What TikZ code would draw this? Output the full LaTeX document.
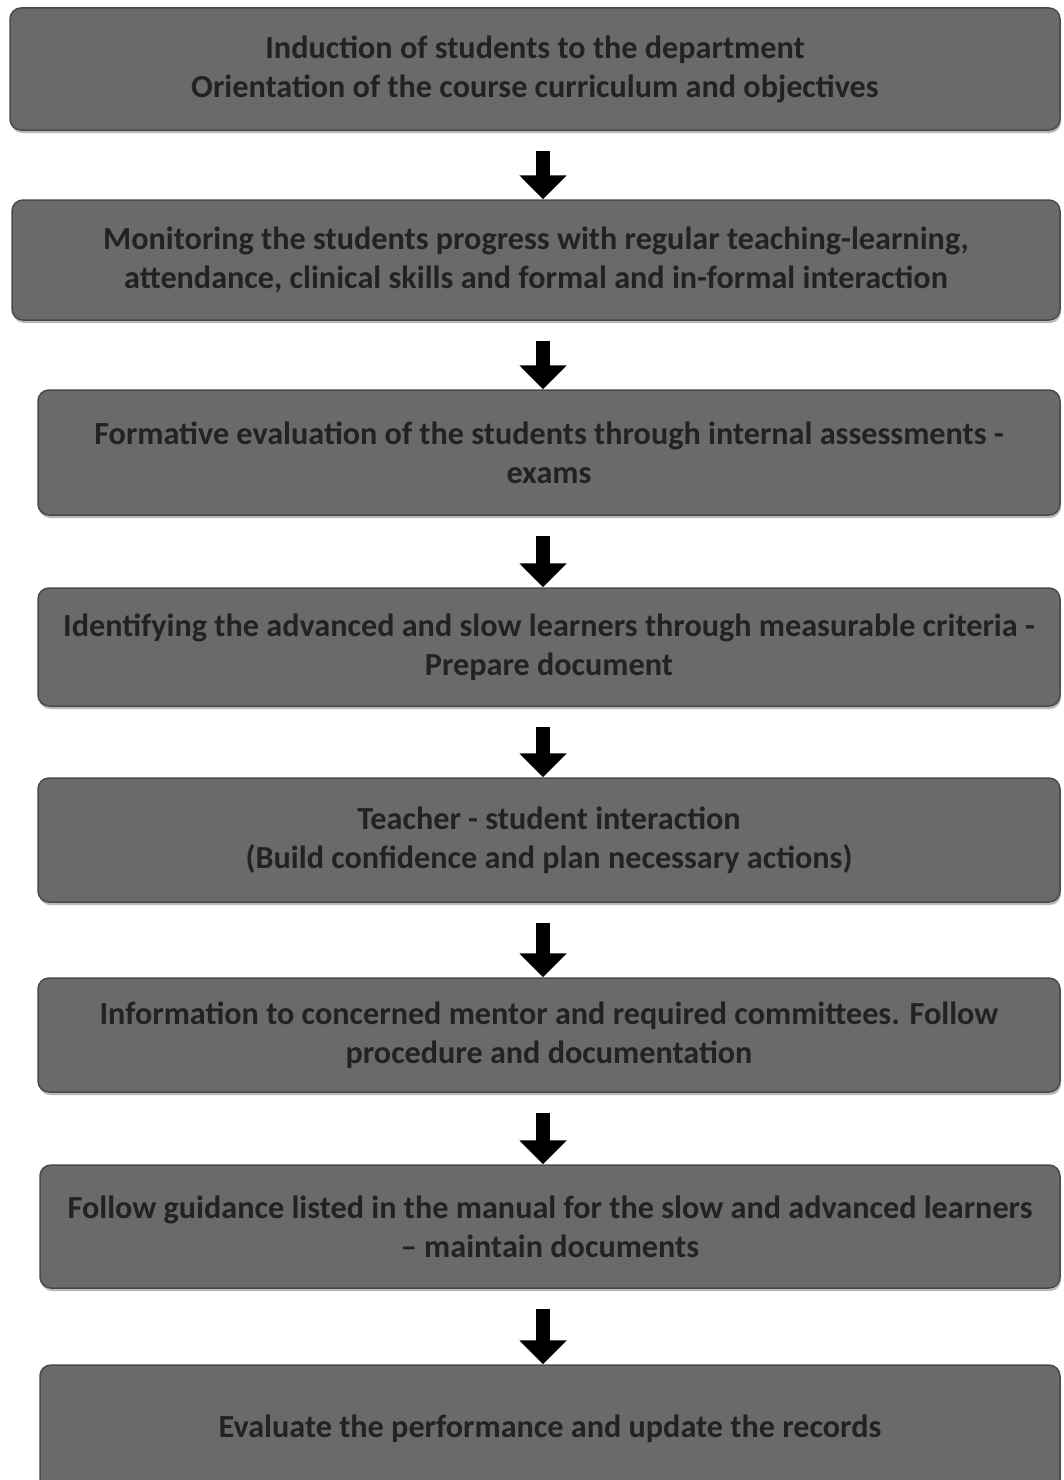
\documentclass[tikz,border=0pt]{standalone}
\usepackage{fontspec}
\setmainfont{Carlito}
\usetikzlibrary{arrows.meta,shadows}
\definecolor{boxgray}{HTML}{6A6A6A}
\definecolor{boxedge}{HTML}{4A4A4A}
\definecolor{txtgray}{HTML}{222222}
\begin{document}
\begin{tikzpicture}[x=1pt,y=-1pt,
  stepbox/.style={fill=boxgray, draw=boxedge, line width=1.5pt, rounded corners=11pt,
    align=center, text=txtgray, inner sep=0pt,
    font=\bfseries\fontsize{32.2}{39}\selectfont,
    drop shadow={opacity=0.55, shadow xshift=1pt, shadow yshift=-3pt}},
  flowarrow/.style={line width=14pt, draw=black, shorten <=20pt,
    -{Triangle[width=46pt,length=24pt]}}]
\useasboundingbox[fill=white] (0,0) rectangle (1063,1480);
\coordinate (axis) at (543,0);
\node[stepbox, minimum width=1050pt, minimum height=122pt] (n1) at (535,69)
  {Induction of students to the department\\Orientation of the course curriculum and objectives};
\node[stepbox, minimum width=1048pt, minimum height=120pt] (n2) at (536,260)
  {Monitoring the students progress with regular teaching-learning,\\attendance, clinical skills and formal and in-formal interaction};
\node[stepbox, minimum width=1022pt, minimum height=125pt] (n3) at (549,452.5)
  {Formative evaluation of the students through internal assessments -\\exams};
\node[stepbox, minimum width=1022pt, minimum height=118pt] (n4) at (549,647)
  {Identifying the advanced and slow learners through measurable criteria -\\Prepare document};
\node[stepbox, minimum width=1022pt, minimum height=124pt] (n5) at (549,840)
  {Teacher - student interaction\\(Build confidence and plan necessary actions)};
\node[stepbox, minimum width=1022pt, minimum height=114pt] (n6) at (549,1035)
  {Information to concerned mentor and required committees. Follow\\procedure and documentation};
\node[stepbox, minimum width=1020pt, minimum height=123pt] (n7) at (550,1226.5)
  {Follow guidance listed in the manual for the slow and advanced learners\\– maintain documents};
\node[stepbox, minimum width=1020pt, minimum height=127pt] (n8) at (550,1428.5)
  {Evaluate the performance and update the records};
\draw[flowarrow] (n1.south -| axis) -- (n2.north -| axis);
\draw[flowarrow] (n2.south -| axis) -- (n3.north -| axis);
\draw[flowarrow] (n3.south -| axis) -- (n4.north -| axis);
\draw[flowarrow] (n4.south -| axis) -- (n5.north -| axis);
\draw[flowarrow] (n5.south -| axis) -- (n6.north -| axis);
\draw[flowarrow] (n6.south -| axis) -- (n7.north -| axis);
\draw[flowarrow] (n7.south -| axis) -- (n8.north -| axis);
\end{tikzpicture}
\end{document}
